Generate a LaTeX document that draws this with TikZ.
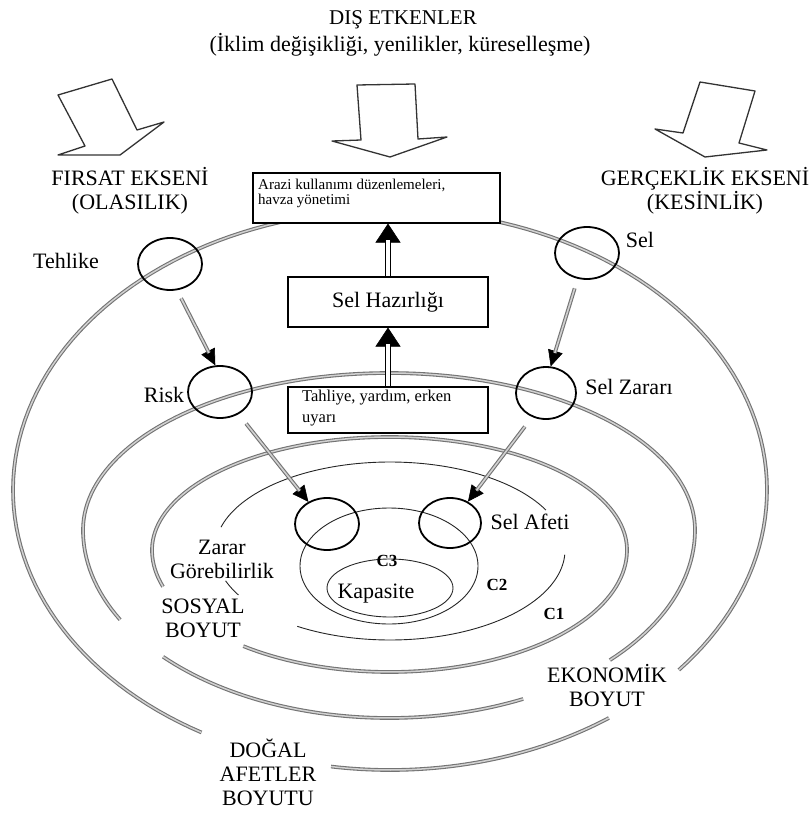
\documentclass[tikz,border=0pt]{standalone}
\usepackage{fontspec}
\setmainfont{Liberation Serif}
\usetikzlibrary{arrows.meta,shapes.geometric}
\begin{document}
\begin{tikzpicture}[x=1pt,y=-1pt,
  ring/.style={draw=black!55, double=black!18, line width=1.1pt, double distance=1.5pt},
  thinring/.style={draw=black!85, line width=0.9pt},
  hole/.style={ellipse, draw=black, line width=1.8pt, minimum width=64pt, minimum height=52pt, inner sep=0pt},
  box/.style={draw=black, line width=1.1pt, fill=white, inner sep=0pt},
  lab/.style={font=\fontsize{22}{24}\selectfont, inner sep=0pt, align=center},
  small/.style={font=\fontsize{15}{15}\selectfont, inner sep=0pt, align=left},
  cl/.style={font=\bfseries\fontsize{17}{19}\selectfont, inner sep=0pt},
  bigarrow/.style={draw=black!80, line width=1.3pt, line join=round, fill=white},
  uphead/.style={-{Triangle[length=19pt,width=25pt]}, line width=0.6pt},
  shaftline/.style={draw=black, line width=1pt},
  ghead/.style={-{Triangle[length=16pt,width=15pt]}, line width=0.6pt},
  gshaft/.style={draw=black!55, double=black!18, line width=1.1pt, double distance=1.6pt, shorten >=14pt},
]
\useasboundingbox (0,0) rectangle (808,813);

% --- concentric dimensions (ellipses broken where labels sit) ---
% natural hazards dimension
\draw[ring] plot[domain=120:400, samples=140] ({390+377*cos(\x)}, {490+280*sin(\x)});
\draw[ring] plot[domain=54.5:99, samples=40] ({390+377*cos(\x)}, {490+280*sin(\x)});
% economic dimension
\draw[ring] plot[domain=151.5:403.8, samples=140] ({389+306*cos(\x)}, {530+172.5*sin(\x)+15.5*abs(sin(\x))});
\draw[ring] plot[domain=64:137.6, samples=50] ({389+306*cos(\x)}, {530+172.5*sin(\x)+15.5*abs(sin(\x))});
% social dimension
\draw[ring] plot[domain=162.5:488, samples=160] ({389.5+237.5*cos(\x)}, {550+117.5*sin(\x)+4.5*abs(sin(\x))});

% C1 thin ring
\draw[thinring] plot[domain=195:333, samples=80] ({390+175*cos(\x)}, {550+89*sin(\x)+1*abs(sin(\x))});
\draw[thinring] plot[domain=3:122, samples=70] ({390+175*cos(\x)}, {550+89*sin(\x)+1*abs(sin(\x))});
\draw[thinring] plot[domain=150:160, samples=8] ({390+175*cos(\x)}, {550+89*sin(\x)+1*abs(sin(\x))});

% C3 and capacity
\draw[thinring] (389,566) ellipse [x radius=89, y radius=58];
\draw[thinring] (390,588) ellipse [x radius=63, y radius=29];

% --- external factor arrows ---
\draw[bigarrow] (58,95) -- (112,79) -- (137,130) -- (164,122) -- (120,155) -- (58,155) -- (85,146) -- cycle;
\draw[bigarrow] (357,85) -- (415,84) -- (418,139) -- (447,137) -- (390,157) -- (332,141) -- (361,140) -- cycle;
\draw[bigarrow] (700,82) -- (755,91) -- (739,143) -- (767,150) -- (705,157) -- (655,129) -- (683,133) -- cycle;

% --- boxes ---
\node[box, minimum width=247pt, minimum height=50pt] (arazi) at (376.5,198) {};
\node[small, anchor=north west] at (258,179) {Arazi kullanımı düzenlemeleri,\\havza yönetimi};
\node[box, minimum width=200pt, minimum height=50pt, font=\fontsize{22}{24}\selectfont] (selh) at (388,302) {Sel Hazırlığı};
\node[box, minimum width=200pt, minimum height=46pt] (tah) at (388,410) {};
\node[small, anchor=north west, font=\fontsize{16.5}{21}\selectfont] at (302,390) {Tahliye, yardım, erken\\uyarı};

% --- circles ---
\node[hole] (teh) at (170,264) {};
\node[hole] (sel) at (587,253) {};
\node[hole] (risk) at (220,392) {};
\node[hole, minimum width=60pt] (selz) at (546,393) {};
\node[hole] (zg) at (327,524) {};
\node[hole, minimum width=62pt, minimum height=50pt] (afet) at (450,523) {};

% --- connectors: double-shafted arrows between the boxes ---
\coordinate (a1) at (selh.south);
\coordinate (a2) at (selh.north |- arazi.south);
\draw[uphead] (tah.north) -- (a1);
\draw[shaftline] ([xshift=-2.5pt]tah.north) -- ([xshift=-2.5pt,yshift=-16pt]a1);
\draw[shaftline] ([xshift=2.5pt]tah.north) -- ([xshift=2.5pt,yshift=-16pt]a1);
\fill[white] ([xshift=-2pt]tah.north) rectangle ([xshift=2pt,yshift=-16pt]a1);
\draw[uphead] (selh.north) -- (a2);
\draw[shaftline] ([xshift=-2.5pt]selh.north) -- ([xshift=-2.5pt,yshift=-16pt]a2);
\draw[shaftline] ([xshift=2.5pt]selh.north) -- ([xshift=2.5pt,yshift=-16pt]a2);
\fill[white] ([xshift=-2pt]selh.north) rectangle ([xshift=2pt,yshift=-16pt]a2);

% --- connectors: hazard chain ---
\draw[ghead, shorten <=9pt] (teh.-75) -- (risk.100);
\draw[gshaft, shorten <=9pt] (teh.-75) -- (risk.100);
\draw[ghead, shorten <=10pt] (sel.-110) -- (selz.80);
\draw[gshaft, shorten <=10pt] (sel.-110) -- (selz.80);
\draw[ghead, shorten <=12pt] (risk.-50) -- (zg.130);
\draw[gshaft, shorten <=12pt] (risk.-50) -- (zg.130);
\draw[ghead, shorten <=12pt] (selz.-120) -- (afet.50);
\draw[gshaft, shorten <=12pt] (selz.-120) -- (afet.50);

% --- labels ---
\node[lab, font=\fontsize{21}{24}\selectfont] (t1) at (403,20) {DIŞ ETKENLER};
\node[lab] (t2) at (400,45) {(İklim değişikliği, yenilikler, küreselleşme)};
\node[lab] (fir) at (130,191) {FIRSAT EKSENİ\\(OLASILIK)};
\node[lab] (ger) at (705,191) {GERÇEKLİK EKSENİ\\(KESİNLİK)};
\node[lab] at (66,261) {Tehlike};
\node[lab] at (640,240) {Sel};
\node[lab] at (164,395) {Risk};
\node[lab] at (629,387) {Sel Zararı};
\node[lab] at (530,522) {Sel Afeti};
\node[lab] at (222,559) {Zarar\\Görebilirlik};
\node[lab] at (203,618) {SOSYAL\\BOYUT};
\node[lab] at (607,686) {EKONOMİK\\BOYUT};
\node[lab] at (268,772) {DOĞAL\\AFETLER\\BOYUTU};
\node[lab] at (376,594) {Kapasite};
\node[cl] at (387,561) {C3};
\node[cl] at (497,585) {C2};
\node[cl] at (554,614) {C1};
\end{tikzpicture}
\end{document}
